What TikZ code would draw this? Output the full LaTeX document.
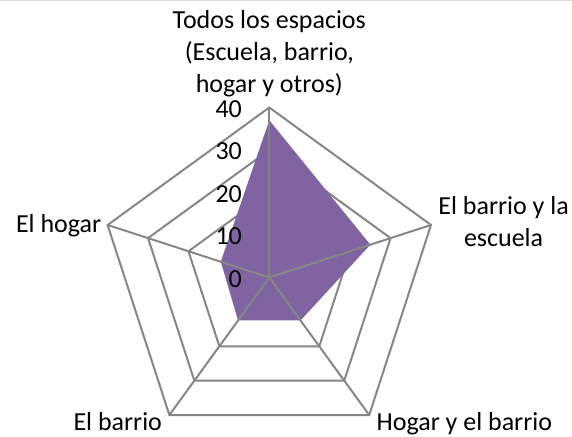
\documentclass[tikz,border=0pt]{standalone}
\usepackage{fontspec}
\setmainfont{Carlito}
\usetikzlibrary{calc}

\definecolor{radarpurple}{RGB}{128,100,162}
\definecolor{gridgray}{RGB}{134,134,134}

\begin{document}
\begin{tikzpicture}[x=0.5pt,y=0.5pt,
    grid/.style={gridgray,line width=1pt},
    lbl/.style={font=\fontsize{13}{16}\selectfont,inner sep=0pt,align=center}]
    \useasboundingbox (-269.3,-158.5) rectangle (302.7,277.5);
    \draw[gray!25,line width=0.5pt] (-269.3,277) -- (302.7,277);

    % Rings
    \foreach \r in {1,...,4}
        \draw[grid] (90:{42.5*\r}) -- (18:{42.5*\r}) -- (-54:{42.5*\r})
            -- (-126:{42.5*\r}) -- (162:{42.5*\r}) -- cycle;

    % Data
    \fill[radarpurple] (90:{37*4.25}) -- (18:{25*4.25}) -- (-54:{12.5*4.25})
        -- (-126:{12.5*4.25}) -- (162:{12*4.25}) -- cycle;

    % Spokes
    \foreach \a in {90,18,-54,-126,162}
        \draw[grid] (0,0) -- (\a:170);

    % Scale
    \foreach \v in {0,10,20,30,40}
        \node[lbl,anchor=east] (t\v) at (-27,{4.25*\v-1.5}) {\v};

    % Categories
    \node[lbl,anchor=south] (todos) at ($(90:170)+(0,10)$)
        {Todos los espacios\\(Escuela, barrio,\\hogar y otros)};
    \node[lbl,anchor=west] (barrioesc) at ($(18:170)+(7,3)$) {El barrio y la\\escuela};
    \node[lbl,anchor=north west] (hogarbarrio) at ($(-54:170)+(7,3)$) {Hogar y el barrio};
    \node[lbl,anchor=north east] (barrio) at ($(-126:170)+(-7,3)$) {El barrio};
    \node[lbl,anchor=east] (hogar) at ($(162:170)+(-6,-1)$) {El hogar};
\end{tikzpicture}
\end{document}
